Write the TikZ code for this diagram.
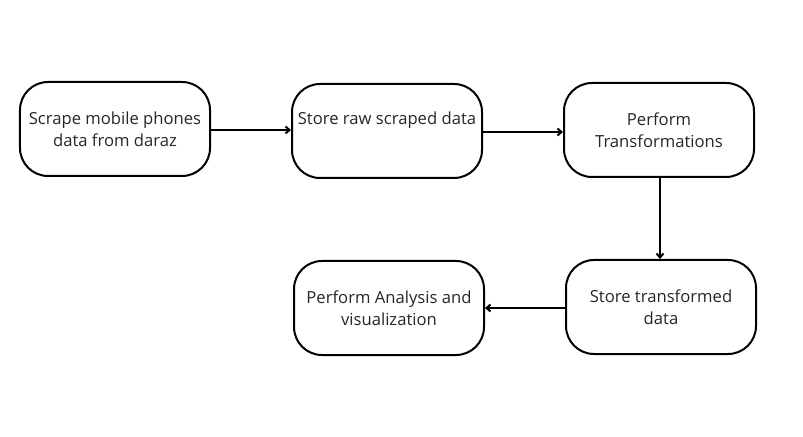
\documentclass[tikz,border=0pt]{standalone}
\usepackage{fontspec}
\setmainfont{Open Sans}
\usetikzlibrary{arrows.meta}
\begin{document}
\begin{tikzpicture}[x=1bp,y=-1bp,
  box/.style={draw=black, line width=2bp, rounded corners=28bp, minimum width=190bp, minimum height=94bp, align=center, font=\fontsize{16.7}{22}\selectfont, text=black!85, inner sep=0pt},
  conn/.style={line width=2bp, -{Straight Barb[length=4bp,width=7bp]}}]
\useasboundingbox (0,0) rectangle (803,437);
\node[box] (a) at (115,129) {Scrape mobile phones\\data from daraz};
\node[box] (b) at (387,131) {Store raw scraped data\\\phantom{g}};
\node[box] (c) at (659,130) {Perform\\Transformations};
\node[box] (d) at (661,307) {Store transformed\\data};
\node[box] (e) at (389,308) {Perform Analysis and\\visualization};
\draw[conn] (a.east |- 0,130) -- (b.west |- 0,130);
\draw[conn] (b.east |- 0,132) -- (c.west |- 0,132);
\draw[conn] (c.south -| 660,0) -- (d.north -| 660,0);
\draw[conn] (d.west |- 0,308) -- (e.east |- 0,308);
\end{tikzpicture}
\end{document}
